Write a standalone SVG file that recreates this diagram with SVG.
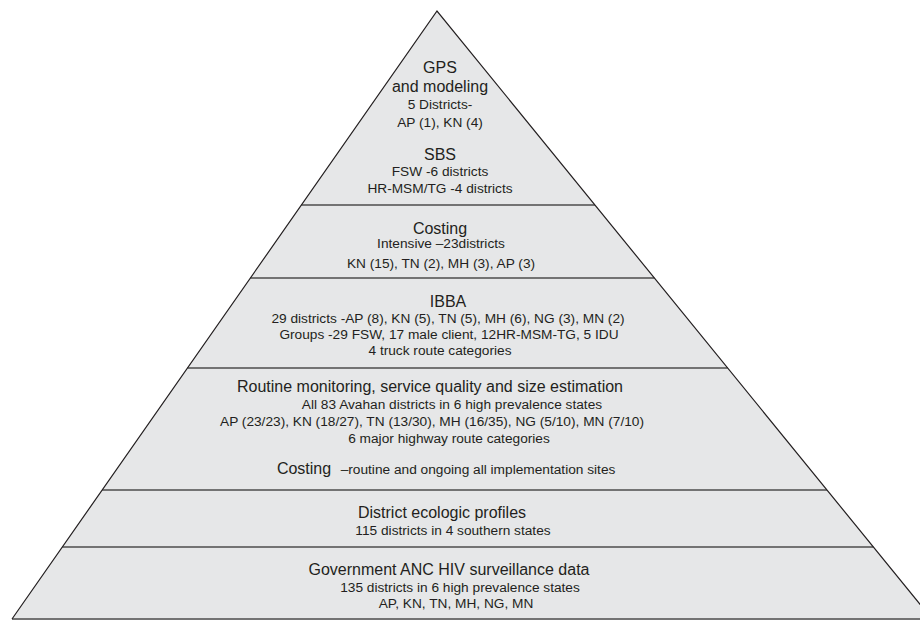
<svg xmlns="http://www.w3.org/2000/svg" width="920" height="620" viewBox="0 0 920 620">
  <style>
    .t { font-family: "Liberation Sans", Arial, sans-serif; font-size: 16px; fill: #231f20; text-anchor: middle; }
    .s { font-family: "Liberation Sans", Arial, sans-serif; font-size: 13.7px; fill: #231f20; text-anchor: middle; }
    .div { stroke: #737373; stroke-width: 2; fill: none; }
    .edge { stroke: #231f20; stroke-width: 1.2; fill: none; }
  </style>
  <rect width="920" height="620" fill="#ffffff"/>
  <polygon points="437,11 12,619 932,619" fill="#e6e7e8"/>

  <g id="gps">
    <text class="t" x="440" y="73">GPS</text>
    <text class="t" x="440" y="92">and modeling</text>
    <text class="s" x="440" y="109">5 Districts-</text>
    <text class="s" x="440" y="127">AP (1), KN (4)</text>
  </g>
  <g id="sbs">
    <text class="t" x="440" y="160">SBS</text>
    <text class="s" x="440" y="176">FSW -6 districts</text>
    <text class="s" x="440" y="193">HR-MSM/TG -4 districts</text>
    <line class="div" x1="301.4" y1="205" x2="594.9" y2="205"/>
  </g>
  <g id="costing">
    <text class="t" x="440" y="234">Costing</text>
    <text class="s" x="441" y="248">Intensive –23districts</text>
    <text class="s" x="441" y="268">KN (15), TN (2), MH (3), AP (3)</text>
    <line class="div" x1="250.4" y1="278" x2="654.3" y2="278"/>
  </g>
  <g id="ibba">
    <text class="t" x="448" y="307">IBBA</text>
    <text class="s" x="448" y="323">29 districts -AP (8), KN (5), TN (5), MH (6), NG (3), MN (2)</text>
    <text class="s" x="449" y="339">Groups -29 FSW, 17 male client, 12HR-MSM-TG, 5 IDU</text>
    <text class="s" x="440" y="355">4 truck route categories</text>
    <line class="div" x1="187.5" y1="368" x2="727.6" y2="368"/>
  </g>
  <g id="routine">
    <text class="t" x="430" y="392">Routine monitoring, service quality and size estimation</text>
    <text class="s" x="452" y="409">All 83 Avahan districts in 6 high prevalence states</text>
    <text class="s" x="432" y="426">AP (23/23), KN (18/27), TN (13/30), MH (16/35), NG (5/10), MN (7/10)</text>
    <text class="s" x="449" y="443">6 major highway route categories</text>
    <text class="t" x="304" y="474">Costing</text>
    <text class="s" x="478" y="474">–routine and ongoing all implementation sites</text>
    <line class="div" x1="102.2" y1="490" x2="826.9" y2="490"/>
  </g>
  <g id="district">
    <text class="t" x="442" y="518">District ecologic profiles</text>
    <text class="s" x="453" y="535">115 districts in 4 southern states</text>
    <line class="div" x1="62.3" y1="547" x2="873.3" y2="547"/>
  </g>
  <g id="government">
    <text class="t" x="449" y="575">Government ANC HIV surveillance data</text>
    <text class="s" x="460" y="592">135 districts in 6 high prevalence states</text>
    <text class="s" x="456" y="608">AP, KN, TN, MH, NG, MN</text>
  </g>

  <g id="outline">
    <line class="div" x1="12" y1="619" x2="932" y2="619"/>
    <polyline class="edge" points="12,619 437,11 932,619"/>
  </g>
</svg>
